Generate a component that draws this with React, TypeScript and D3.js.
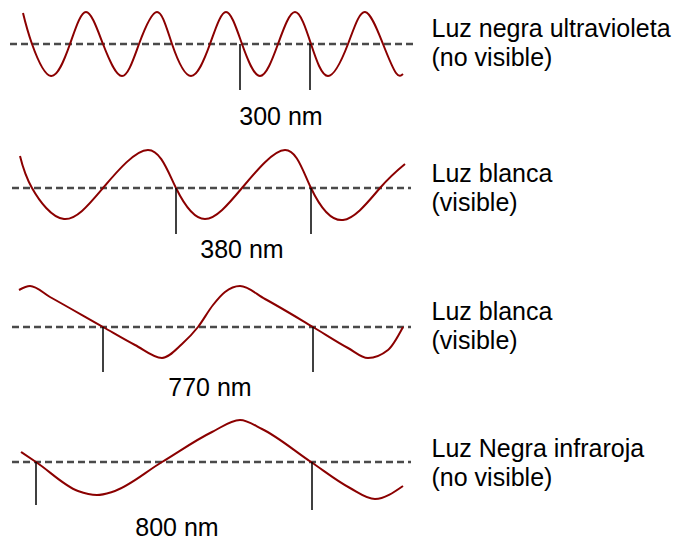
import React from "react";
import * as d3 from "d3";

// Wave shapes: [horizontal position, displacement from the axis]
const waveUltraviolet: [number, number][] = [
  [23, 31], [32, 0], [51, -32], [70, 0], [86, 32], [103, 0], [122, -32], [139, 0],
  [157, 32], [172, 0], [191, -32], [210, 0], [226, 32], [242, 0], [260, -32],
  [278, 0], [295, 32], [311, 0], [328, -32], [348, 0], [365, 32], [383, 0],
  [396, -29], [403, -30],
];
const waveVisibleShort: [number, number][] = [
  [20, 32], [32, 0], [64, -31], [103, 0], [148, 38], [176, 0], [205, -31],
  [242, 0], [285, 38], [311, 0], [343, -32], [380, 0], [405, 24],
];
const waveVisibleLong: [number, number][] = [
  [19, 37], [30, 41], [50, 30], [103, 0], [135, -18], [162, -31], [182, -17],
  [198, 0], [213, 22], [225, 35], [240, 41], [265, 28], [313, 0], [348, -21],
  [368, -31], [388, -23], [403, 0],
];
const waveInfrared: [number, number][] = [
  [21, 10], [36, 0], [78, -29], [97, -33], [112, -30], [162, 0], [212, 30],
  [240, 42], [262, 33], [311, 0], [350, -26], [375, -37], [403, -24],
];

const waves = [waveUltraviolet, waveVisibleShort, waveVisibleLong, waveInfrared];

// Marked wavelength: positions of the two marker ticks on each wave
const markerPairs: [number, number][] = [
  [240, 310],
  [176, 311],
  [103, 313],
  [36, 312],
];
const wavelengthLabels = ["300 nm", "380 nm", "770 nm", "800 nm"];
const wavelengthLabelX = [281, 242, 210, 177];

const titleLine1 = ["Luz negra ultravioleta", "Luz blanca", "Luz blanca", "Luz Negra infraroja"];
const titleLine2 = ["(no visible)", "(visible)", "(visible)", "(no visible)"];

export default function App() {
  const width = 680;
  const height = 540;
  const font = "'Liberation Sans', Arial, Helvetica, sans-serif";

  // layout per panel
  const axisY = [44, 188, 327, 462];
  const tickBottom = [[90, 90], [234, 234], [372, 372], [505, 510]];
  const labelBaseline = [125, 258, 396, 536];
  const titleBaseline = [36.7, 181.7, 320, 457.3];
  const axisX0 = [10, 12, 12, 12];
  const axisX1 = [413, 411, 411, 411];
  const curves = [d3.curveNatural, d3.curveNatural, d3.curveMonotoneX, d3.curveMonotoneX];

  const x = d3.scaleLinear().domain([0, width]).range([0, width]);

  return (
    <svg
      width={width}
      height={height}
      style={{ position: "absolute", left: 0, top: 0, background: "#fff" }}
    >
      <rect x={0} y={0} width={width} height={height} fill="#fff" />
      {waves.map((w, i) => {
        const y = d3.scaleLinear().domain([-50, 50]).range([axisY[i] + 50, axisY[i] - 50]);
        const line = d3
          .line<[number, number]>()
          .x((d) => x(d[0]))
          .y((d) => y(d[1]))
          .curve(curves[i]);
        return (
          <g key={i}>
            <line
              x1={x(axisX0[i])}
              x2={x(axisX1[i])}
              y1={y(0)}
              y2={y(0)}
              stroke="#4a4a4a"
              strokeWidth={2.6}
              strokeDasharray="7 4"
            />
            <path d={line(w) || ""} fill="none" stroke="#8b0000" strokeWidth={2} />
            {markerPairs[i].map((mx, j) => (
              <line
                key={j}
                x1={x(mx)}
                x2={x(mx)}
                y1={y(0)}
                y2={tickBottom[i][j]}
                stroke="#000"
                strokeWidth={1.5}
              />
            ))}
            <text
              x={x(wavelengthLabelX[i])}
              y={labelBaseline[i]}
              textAnchor="middle"
              fontFamily={font}
              fontSize={25}
              fill="#000"
            >
              {wavelengthLabels[i]}
            </text>
            <text x={431.5} y={titleBaseline[i]} fontFamily={font} fontSize={25} fill="#000">
              {titleLine1[i]}
            </text>
            <text x={431.5} y={titleBaseline[i] + 28.8} fontFamily={font} fontSize={25} fill="#000">
              {titleLine2[i]}
            </text>
          </g>
        );
      })}
    </svg>
  );
}
